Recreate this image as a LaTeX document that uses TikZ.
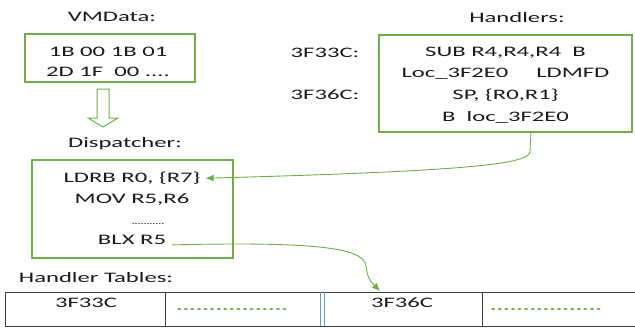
\documentclass[tikz,border=0pt]{standalone}
\usepackage{fontspec}
\setmainfont{Carlito}[FakeStretch=1.7]
\usetikzlibrary{arrows.meta}
\definecolor{og}{HTML}{70AD47}
\definecolor{tx}{HTML}{1A1A1A}
\definecolor{ln}{HTML}{404040}
\definecolor{bl}{HTML}{5B9BD5}
\begin{document}
\begin{tikzpicture}[x=1pt,y=-1pt,
  txt/.style={anchor=base,inner sep=0pt,text=tx,font=\fontsize{14.5}{17}\selectfont},
  gbox/.style={draw=og,line width=1.2pt,inner sep=0pt},
  conn/.style={draw=og,line width=0.9pt,-{Latex[length=8pt,width=7pt]}},
  gdots/.style={anchor=base,inner sep=0pt,text=og,font=\fontsize{14.5}{17}\selectfont\bfseries}]
\useasboundingbox (0,0) rectangle (635,327);
% labels
\node[txt] (lvm) at (112,21.5) {VMData:};
\node[txt] (lh) at (517,22.5) {Handlers:};
\node[txt] (ld) at (125,147.5) {Dispatcher:};
\node[txt] (lt) at (96,282.5) {Handler Tables:};
\node[txt] (a1) at (325,57.5) {3F33C:};
\node[txt] (a2) at (325,99.5) {3F36C:};
% VMData box
\draw[gbox] (25,34) rectangle (195,82);
\node[txt] (v1) at (108,56.5) {1B 00 1B 01};
\node[txt] (v2) at (108,76.5) {2D 1F\ \ 00 ....};
% hollow arrow
\draw[og,line width=1pt,line join=miter] (97,89) -- (109,89) -- (109,118) -- (118,118) -- (103,127) -- (88,118) -- (97,118) -- cycle;
% Handlers box
\draw[gbox] (379,35) rectangle (632,132);
\coordinate (hout) at (531,132);
\node[txt] (h1) at (505.5,56.5) {SUB R4,R4,R4\ \ B};
\node[txt] (h2) at (505.5,77.5) {Loc\_3F2E0\ \ \ \ \ LDMFD};
\node[txt] (h3) at (505.5,99.5) {SP, \{R0,R1\}};
\node[txt] (h4) at (505.5,121.5) {B\ \ loc\_3F2E0};
% Dispatcher box
\draw[gbox] (32,160) rectangle (233,258);
\node[txt] (d1) at (132,182.5) {LDRB R0, \{R7\}};
\node[txt] (d2) at (132,203.5) {MOV R5,R6};
\node[anchor=base,inner sep=0pt,text=tx,font=\fontsize{6.5}{7}\selectfont\bfseries] (d3) at (148,224.5) {...........};
\node[txt] (d4) at (132,244.5) {BLX R5};
% table
\draw[ln,line width=1pt] (5,292) rectangle (645,326);
\draw[ln,line width=1pt] (165,292) -- (165,326);
\draw[ln,line width=1pt] (482,292) -- (482,326);
\draw[bl,line width=0.8pt] (320,292) -- (320,326);
\draw[bl,line width=0.8pt] (324,292) -- (324,326);
\node[txt] (t1) at (86,307.5) {3F33C};
\node[txt] (t2) at (402,307.5) {3F36C};
\node[gdots] (g1) at (232,310.5) {.................};
\node[gdots] (g2) at (546,310.5) {.................};
\coordinate (tin) at (380,291);
% connectors
\draw[conn] (hout) -- (530,152) .. controls (528,164) and (470,171) .. ([xshift=5pt]d1.east);
\draw[conn] ([xshift=6pt,yshift=-5pt]d4.east) .. controls (330,241) and (364,250) .. (366,266) .. controls (367,278) and (372,283) .. (tin);
\end{tikzpicture}
\end{document}
